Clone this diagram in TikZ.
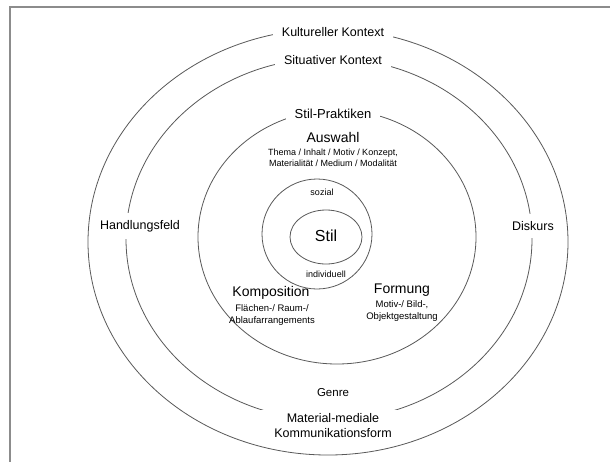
\documentclass[tikz,border=0pt]{standalone}
\usepackage{fontspec}
\setmainfont{Liberation Sans}
\begin{document}
\begin{tikzpicture}[x=1pt,y=-1pt,
  ring/.style={draw=black!65,line width=0.8pt},
  lbl/.style={fill=white,inner xsep=9pt,inner ysep=4pt,align=center},
  txt/.style={inner sep=0pt,align=center},
  fL/.style={font=\fontsize{12.5}{15}\selectfont},
  fH/.style={font=\fontsize{14}{16}\selectfont},
  fS/.style={font=\fontsize{9}{11}\selectfont}]
\clip (0,0) rectangle (610,461);
\fill[white] (0,0) rectangle (610,461);
\draw[black!45,line width=2pt] (10,7) rectangle (700,520);
% rings
\draw[ring] (328,242) ellipse [x radius=240,y radius=213];
\draw[ring] (329,239) ellipse [x radius=203,y radius=181];
\draw[ring] (337,237) ellipse [x radius=139,y radius=127];
\draw[ring] (317,234) ellipse [x radius=55,y radius=55];
\draw[ring] (326,237) ellipse [x radius=36,y radius=27];
% ring labels (white background opens the gaps)
\node[lbl,fL] (kult) at (333,32) {Kultureller Kontext};
\node[lbl,fL] (situ) at (333,60) {Situativer Kontext};
\node[lbl,fL,font=\fontsize{13}{15}\selectfont] (prak) at (333,114) {Stil-Praktiken};
\node[lbl,fL,inner xsep=3pt,inner ysep=7pt] (hand) at (140,226) {Handlungsfeld};
\node[lbl,fL,inner xsep=3pt,inner ysep=7pt] (disk) at (533,226) {Diskurs};
\node[lbl,fL,inner xsep=14pt,inner ysep=4pt] (mat) at (333,426) {Material-mediale\\Kommunikationsform};
% inner texts
\node[txt,fH] (ausw) at (333,137) {Auswahl};
\node[txt,fS] (ausd) at (333,158) {Thema / Inhalt / Motiv / Konzept,\\Materialität / Medium / Modalität};
\node[txt,fS] (soz) at (322,192) {sozial};
\node[txt,font=\fontsize{16}{18}\selectfont] (stil) at (326,236) {Stil};
\node[txt,fS] (ind) at (326,274) {individuell};
\node[txt,fH] (komp) at (271,293) {Komposition};
\node[txt,font=\fontsize{9.5}{12}\selectfont] (kompd) at (272,315) {Flächen-/ Raum-/\\Ablaufarrangements};
\node[txt,fH] (form) at (402,290) {Formung};
\node[txt,font=\fontsize{9.5}{12}\selectfont] (formd) at (402,311) {Motiv-/ Bild-,\\Objektgestaltung};
\node[txt,font=\fontsize{11.5}{14}\selectfont] (genre) at (333,393) {Genre};
\end{tikzpicture}
\end{document}
